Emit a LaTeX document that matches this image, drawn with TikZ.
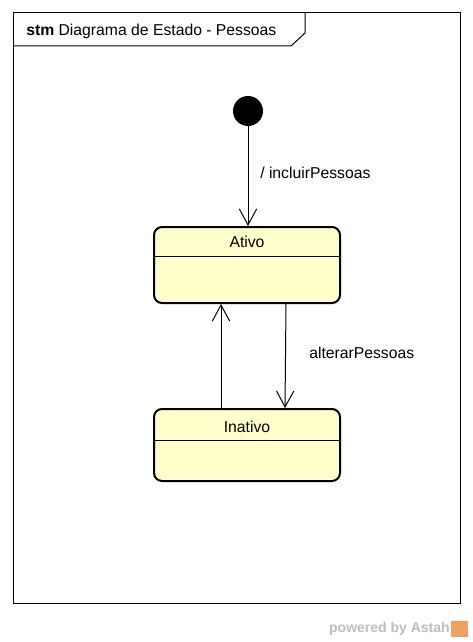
\documentclass[tikz,border=0pt]{standalone}
\usepackage{fontspec}
\setmainfont{Liberation Sans}
\usetikzlibrary{arrows.meta}
\definecolor{statefill}{HTML}{FFFFCC}
\definecolor{astahgray}{HTML}{BDBDBD}
\definecolor{astahorange}{HTML}{F0A060}
\begin{document}
\begin{tikzpicture}[x=0.75pt,y=-0.75pt,
  statebox/.style={draw,line width=1.5pt,fill=statefill,rounded corners=6pt,minimum width=186*0.75pt,minimum height=76*0.75pt,inner sep=0pt},
  trans/.style={draw,line width=0.75pt,-{Straight Barb[length=12pt,width=13pt,line width=0.75pt]}},
  txt/.style={font=\fontsize{11.8pt}{13pt}\selectfont,inner sep=0pt},
  lbl/.style={txt,anchor=west}]
\useasboundingbox (0,0) rectangle (473,642);
\fill[white] (0,0) rectangle (473,642);
% frame
\draw[line width=0.75pt] (13,13) rectangle (460,603);
\draw[line width=0.75pt] (13,46) -- (291,46) -- (305,33) -- (305,13);
\node[lbl] (title) at (26,31) {\textbf{stm} Diagrama de Estado - Pessoas};
% initial
\node[circle,fill=black,minimum size=30*0.75pt,inner sep=0pt] (init) at (248,111) {};
% states
\node[statebox] (ativo) at (247,265) {};
\draw[line width=0.75pt] (ativo.west |- 0,256) -- (ativo.east |- 0,256);
\node[txt] (ativot) at (247,242) {Ativo};
\node[statebox,minimum height=72*0.75pt] (inativo) at (247,445) {};
\draw[line width=0.75pt] (inativo.west |- 0,440) -- (inativo.east |- 0,440);
\node[txt] (inativot) at (247,427) {Inativo};
% transitions
\draw[trans] (init.south) -- (init.south |- ativo.north);
\draw[trans] (inativo.north -| 221,0) -- (ativo.south -| 221,0);
\draw[trans] (ativo.south -| 286,0) -- (inativo.north -| 285,0);
\node[lbl] (l1) at (260,173) {/ incluirPessoas};
\node[lbl] (l2) at (309,353) {alterarPessoas};
% watermark
\node[font=\bfseries\fontsize{10.5pt}{12pt}\selectfont,text=astahgray,inner sep=0pt,anchor=east] (wm) at (450,629) {powered by Astah};
\fill[astahorange] (451,621) rectangle (468,637);
\end{tikzpicture}
\end{document}
